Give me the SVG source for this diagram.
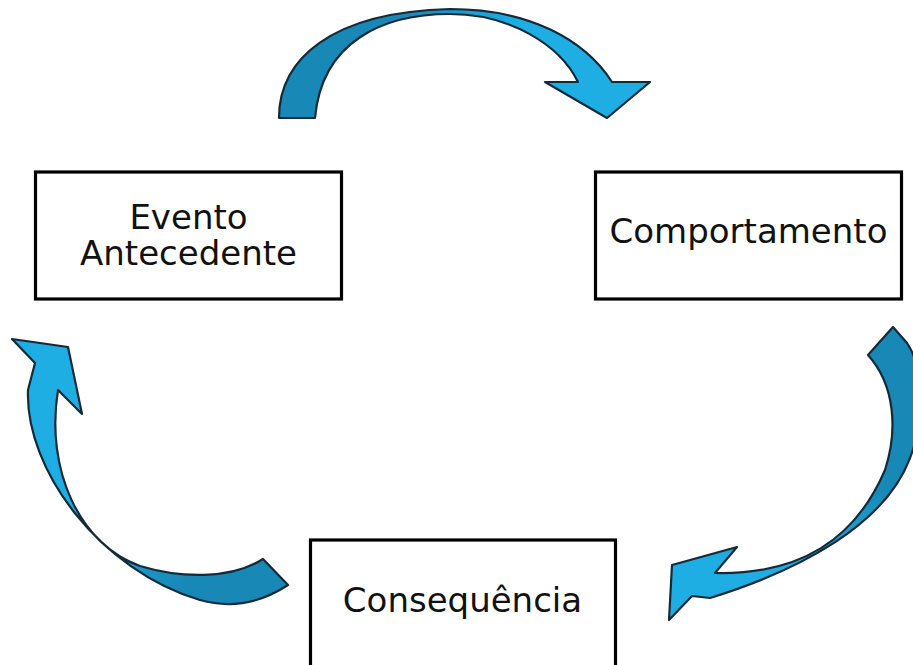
<svg xmlns="http://www.w3.org/2000/svg" width="913" height="665" viewBox="0 0 913 665">
<style>
.box{fill:#fff;stroke:#000;stroke-width:3.2}
.lbl{font-family:"DejaVu Sans","Liberation Sans",sans-serif;font-size:34px;fill:#111;text-anchor:middle}
.arr{stroke:#142a36;stroke-width:2.2;stroke-linejoin:round}
</style>
<defs>
<linearGradient id="gTop" gradientUnits="userSpaceOnUse" x1="400" y1="0" x2="520" y2="0">
<stop offset="0" stop-color="#1888b6"/><stop offset="1" stop-color="#1eaee3"/>
</linearGradient>
<linearGradient id="gRight" gradientUnits="userSpaceOnUse" x1="0" y1="490" x2="0" y2="560">
<stop offset="0" stop-color="#1888b6"/><stop offset="1" stop-color="#1eaee3"/>
</linearGradient>
<linearGradient id="gLeft" gradientUnits="userSpaceOnUse" x1="90" y1="520" x2="180" y2="590">
<stop offset="0" stop-color="#1eaee3"/><stop offset="1" stop-color="#1888b6"/>
</linearGradient>
</defs>
<g id="connectors">
<path id="arrow-top" class="arr" fill="url(#gTop)" d="M279,118 C279,60 330,12 450,9 C530,9 585,40 612,82 L650,82 L607,118 L545,82 L578,82 C560,45 510,14 450,14 C385,14 322,40 315,118 Z"/>
<path id="arrow-right" class="arr" fill="url(#gRight)" d="M868,355 L893,327 L907,343 C925,370 925,420 910,458 C885,525 800,570 710,598 L692,596 L669,620 L672,565 L737,547 L715,573 C800,575 855,540 885,470 C898,430 895,385 868,355 Z"/>
<path id="arrow-left" class="arr" fill="url(#gLeft)" d="M12,339 L68,347 L82,414 L58,390 C45,470 80,545 140,566 C180,578 230,580 263,559 L288,585 C265,600 235,610 200,600 C100,570 25,470 28,390 L35,363 Z"/>
</g>
<g id="node-evento">
<rect class="box" x="35.5" y="172" width="306" height="127"/>
<text class="lbl" x="188.5" y="229">Evento</text>
<text class="lbl" x="188.5" y="265">Antecedente</text>
</g>
<g id="node-comportamento">
<rect class="box" x="595.5" y="172" width="306" height="127"/>
<text class="lbl" x="748.5" y="243">Comportamento</text>
</g>
<g id="node-consequencia">
<rect class="box" x="310.5" y="540" width="305" height="140"/>
<text class="lbl" x="462.5" y="612">Consequência</text>
</g>
</svg>
